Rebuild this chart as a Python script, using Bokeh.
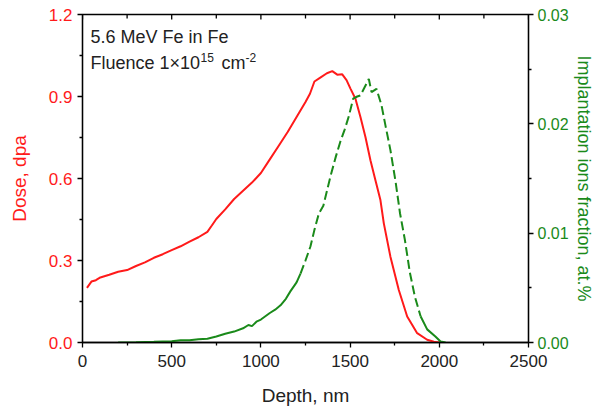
import math
from bokeh.plotting import figure
from bokeh.models import Range1d, LinearAxis, FixedTicker, Label, NumeralTickFormatter
from bokeh.embed import file_html
from bokeh.resources import INLINE

# ---- data ----
depth_dose = [25, 50, 75, 100, 150, 200, 250, 300, 350, 400, 450, 500, 550, 600, 650, 700,
              725, 750, 800, 850, 900, 950, 1000, 1050, 1100, 1150, 1200, 1250, 1275, 1300,
              1335, 1370, 1400, 1428, 1456, 1480, 1502, 1530, 1558, 1586, 1614, 1642, 1670,
              1689, 1726, 1773, 1820, 1876, 1932, 1970, 2000]
dose = [0.200, 0.223, 0.228, 0.238, 0.248, 0.259, 0.265, 0.280, 0.293, 0.310, 0.323, 0.338,
        0.352, 0.369, 0.385, 0.405, 0.428, 0.452, 0.487, 0.525, 0.555, 0.585, 0.620, 0.670,
        0.720, 0.770, 0.825, 0.880, 0.910, 0.955, 0.970, 0.985, 0.993, 0.980, 0.981, 0.960,
        0.929, 0.892, 0.825, 0.752, 0.667, 0.594, 0.521, 0.436, 0.314, 0.192, 0.095, 0.034,
        0.010, 0.003, 0.000]

depth_ion = [200, 300, 400, 500, 550, 600, 650, 700, 750, 800, 850, 900, 930, 950, 975, 1000,
             1050, 1080, 1110, 1140, 1166, 1200, 1222, 1250, 1278, 1300, 1325, 1350, 1390,
             1420, 1446, 1470, 1493, 1517, 1540, 1558, 1580, 1605, 1620, 1648, 1676, 1700,
             1726, 1755, 1780, 1807, 1835, 1863, 1895, 1932, 1978, 2007, 2035]
ion_fraction = [0.0, 0.00003, 0.00007, 0.00012, 0.0002, 0.0002, 0.0003, 0.00035, 0.00055,
                0.0008, 0.0010, 0.0013, 0.0016, 0.0015, 0.0019, 0.0021, 0.0027, 0.0030,
                0.0034, 0.0040, 0.0047, 0.0055, 0.0063, 0.0075, 0.0088, 0.0103, 0.0118,
                0.0125, 0.0152, 0.0170, 0.0184, 0.0195, 0.0207, 0.0223, 0.0225, 0.0226,
                0.0233, 0.0241, 0.0229, 0.0232, 0.0217, 0.0197, 0.0176, 0.0147, 0.0118,
                0.0094, 0.0064, 0.0042, 0.0024, 0.0012, 0.00055, 0.0001, 0.0]

x_ticks = [0, 500, 1000, 1500, 2000, 2500]
dose_ticks = [0.0, 0.3, 0.6, 0.9, 1.2]
ion_ticks = [0.0, 0.01, 0.02, 0.03]

x_label = "Depth, nm"
dose_label = "Dose, dpa"
ion_label = "Implantation ions fraction, at.%"

RED = "#ff1a1a"
GREEN = "#1a8a1a"
FONT = "Liberation Sans"


def mids(t):
    return [(a + b) / 2 for a, b in zip(t[:-1], t[1:])]


p = figure(width=601, height=408, output_backend="svg", toolbar_location=None,
           x_range=Range1d(x_ticks[0], x_ticks[-1]),
           y_range=Range1d(dose_ticks[0], dose_ticks[-1]),
           min_border_left=82, min_border_right=73, min_border_top=14, min_border_bottom=65)
p.extra_y_ranges = {"ion": Range1d(ion_ticks[0], ion_ticks[-1])}
p.xgrid.visible = False
p.ygrid.visible = False
p.outline_line_color = "black"
p.outline_line_width = 1.3
p.background_fill_color = "white"
p.border_fill_color = "white"


def style_axis(ax, color, ticks, fmt, label, tick_size="17px", title_size="19px"):
    ax.ticker = FixedTicker(ticks=ticks, minor_ticks=mids(ticks))
    ax.formatter = NumeralTickFormatter(format=fmt)
    ax.axis_line_color = "black"
    ax.axis_line_width = 1.3
    ax.major_tick_line_color = "black"
    ax.minor_tick_line_color = "black"
    ax.major_tick_line_width = 1.3
    ax.minor_tick_line_width = 1.3
    ax.major_tick_in = 0
    ax.major_tick_out = 5
    ax.minor_tick_in = 0
    ax.minor_tick_out = 3
    ax.major_label_text_font = FONT
    ax.major_label_text_font_size = tick_size
    ax.major_label_text_color = color
    ax.axis_label = label
    ax.axis_label_text_font = FONT
    ax.axis_label_text_font_size = title_size
    ax.axis_label_text_font_style = "normal"
    ax.axis_label_text_color = color


# bottom axis
xa = p.xaxis[0]
style_axis(xa, "#222222", x_ticks, "0", x_label)
xa.major_label_standoff = 7
xa.axis_label_standoff = 15

# left axis
ya = p.yaxis[0]
style_axis(ya, RED, dose_ticks, "0.0", dose_label)
ya.major_label_standoff = 5
ya.axis_label_standoff = 16

# right axis
ra = LinearAxis(y_range_name="ion")
style_axis(ra, GREEN, ion_ticks, "0.00", ion_label, tick_size="16px", title_size="18px")
ra.major_label_standoff = 4
ra.axis_label_standoff = 2
p.add_layout(ra, "right")

# inward ticks on the top edge of the frame (clipped to the frame)
top = dose_ticks[-1]
p.scatter(x_ticks, [top] * len(x_ticks), marker="dash", angle=math.pi / 2, size=10,
          line_color="black", line_width=1.3)
p.scatter(mids(x_ticks), [top] * len(mids(x_ticks)), marker="dash", angle=math.pi / 2,
          size=8, line_color="black", line_width=1.3)

# curves
p.line(depth_dose, dose, line_color=RED, line_width=2)

split = depth_ion.index(1222)
tail = depth_ion.index(1895)
p.line(depth_ion[:split + 1], ion_fraction[:split + 1], line_color=GREEN, line_width=2,
       y_range_name="ion")
p.line(depth_ion[split:tail + 1], ion_fraction[split:tail + 1], line_color=GREEN,
       line_width=2, line_dash="9 4", y_range_name="ion")
p.line(depth_ion[tail:], ion_fraction[tail:], line_color=GREEN, line_width=2,
       y_range_name="ion")

# annotation
common = dict(text_font=FONT, text_color="#222222", text_baseline="alphabetic")
p.add_layout(Label(x=45, y=1.116, text="5.6 MeV Fe in Fe", text_font_size="18px", **common))
p.add_layout(Label(x=45, y=1.021, text="Fluence 1\u00d710", text_font_size="18px", **common))
p.add_layout(Label(x=45, y=1.021, x_offset=110, y_offset=6, text="15",
                   text_font_size="12px", **common))
p.add_layout(Label(x=45, y=1.021, x_offset=131, text="cm", text_font_size="18px", **common))
p.add_layout(Label(x=45, y=1.021, x_offset=155, y_offset=6, text="-2",
                   text_font_size="12px", **common))

open("out.html", "w").write(file_html(p, INLINE))
